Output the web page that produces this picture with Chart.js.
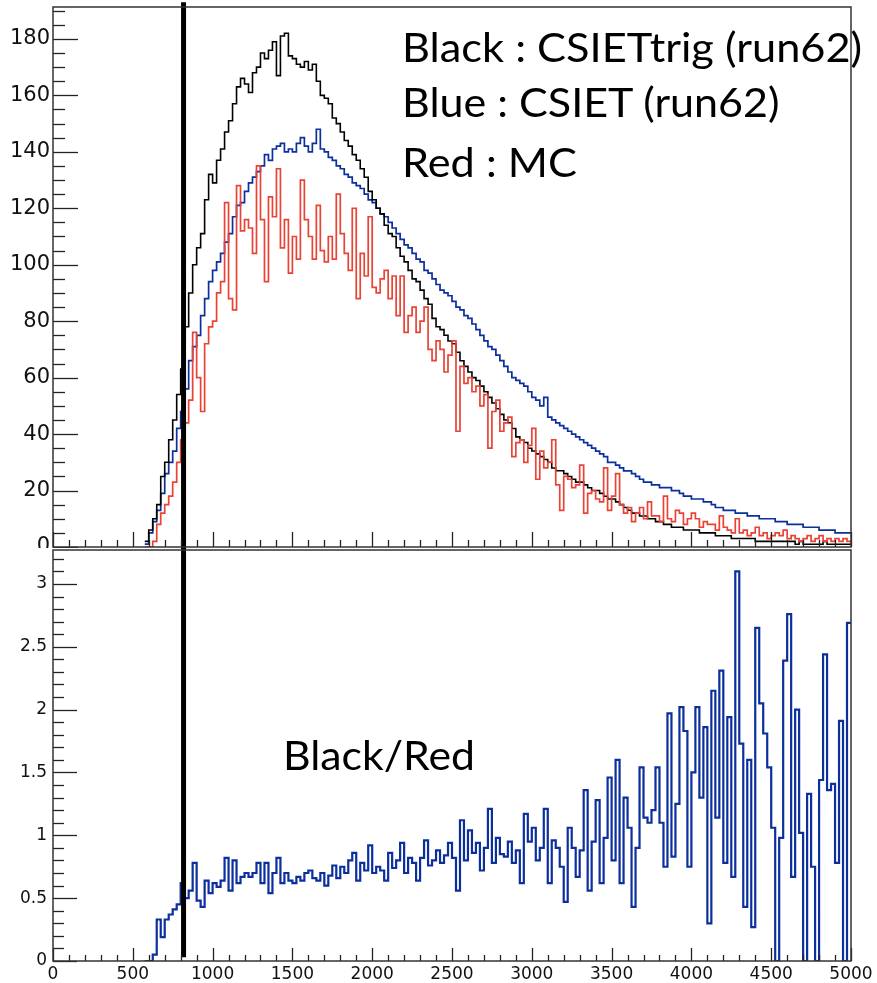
<!DOCTYPE html>
<html>
<head>
<meta charset="utf-8">
<script src="https://cdn.jsdelivr.net/npm/chart.js@4/dist/chart.umd.min.js"></script>
<style>
  html, body { margin: 0; padding: 0; background: #fff; }
  #wrap { position: relative; width: 877px; height: 983px; overflow: hidden; }
  #top { position: absolute; left: 0; top: 0; }
  #bottom { position: absolute; left: 0; top: 548px; background: #fff; }
  .note { position: absolute; font-family: Lato, "Open Sans", sans-serif; font-size: 41px;
          line-height: 1; white-space: nowrap; color: #000; transform-origin: 0 0; }
</style>
</head>
<body>
<div id="wrap">
  <canvas id="top" width="877" height="560"></canvas>
  <canvas id="bottom" width="877" height="435"></canvas>
  <div class="note" id="n1" style="left:402px; top:26px" data-w="460">Black : CSIETtrig (run62)</div>
  <div class="note" id="n2" style="left:402px; top:81px" data-w="379">Blue : CSIET (run62)</div>
  <div class="note" id="n3" style="left:402px; top:141px" data-w="175">Red : MC</div>
  <div class="note" id="n4" style="left:283px; top:734px" data-w="192">Black/Red</div>
</div>
<script>
// histogram binning (x in ADC-like units), first bin starts at 575
const binLow = 575;
const binWidth = 25;
const cutX = 818;

// Black : CSIETtrig (run62)
const blackCounts = [
  2, 6, 10, 15, 25, 30, 38, 45, 54, 63, 78, 90, 100, 106, 111, 123, 132, 129, 137, 141,
  147, 151, 157, 163, 166, 164, 161, 168, 170, 175, 173, 176, 179, 167, 181, 182, 174, 173, 171, 170,
  172, 169, 171, 165, 160, 159, 157, 152, 150, 147, 144, 142, 139, 137, 134, 131, 126, 123, 120, 118,
  114, 111, 110, 106, 103, 101, 98, 95, 94, 91, 88, 86, 81, 78, 77, 75, 73, 72, 69, 66,
  64, 62, 60, 59, 57, 55, 53, 51, 49, 47, 45, 44, 42, 39, 38, 37, 35, 34, 33, 32,
  31, 30, 28, 27, 27, 26, 25, 24, 23, 23, 22, 21, 20, 20, 19, 18, 17, 17, 16, 15,
  14, 13, 12, 12, 11, 11, 10, 10, 9, 9, 8, 8, 7, 7, 7, 6, 6, 6, 6, 5,
  5, 5, 5, 4, 4, 4, 4, 3, 3, 3, 3, 3, 3, 2, 2, 2, 2, 2, 2, 2,
  2, 2, 2, 1, 2, 1, 1, 1, 1, 1, 2, 1, 1, 1, 1, 1, 1
];

// Blue : CSIET (run62)
const blueCounts = [
  1, 5, 9, 13, 19, 26, 30, 34, 42, 48, 56, 66, 71, 75, 82, 88, 94, 98, 101, 104,
  108, 111, 117, 121, 122, 126, 129, 131, 133, 135, 139, 137, 141, 142, 143, 140, 141, 140, 143, 145,
  142, 140, 143, 148, 141, 140, 138, 137, 135, 134, 132, 131, 129, 128, 127, 125, 123, 122, 120, 118,
  117, 115, 113, 111, 109, 107, 106, 104, 102, 101, 98, 97, 95, 93, 91, 90, 89, 87, 85, 84,
  82, 81, 79, 77, 75, 73, 71, 70, 68, 66, 64, 62, 60, 59, 58, 57, 55, 53, 52, 50,
  53, 46, 45, 44, 43, 42, 41, 40, 39, 38, 37, 36, 35, 34, 33, 32, 30, 30, 29, 28,
  27, 27, 26, 25, 24, 23, 23, 22, 22, 21, 21, 21, 20, 20, 19, 18, 18, 17, 17, 17,
  16, 16, 15, 14, 14, 13, 13, 13, 12, 12, 12, 11, 11, 11, 10, 10, 10, 10, 9, 9,
  9, 8, 8, 8, 8, 7, 7, 7, 7, 6, 6, 6, 6, 5, 5, 5, 5
];

// Red : MC
const redCounts = [
  0, 0, 2, 8, 12, 15, 18, 23, 30, 38, 44, 52, 76, 60, 48, 72, 78, 80, 90, 94,
  122, 88, 84, 128, 112, 116, 113, 104, 135, 116, 94, 124, 117, 134, 106, 116, 97, 110, 102, 130,
  116, 110, 102, 121, 105, 101, 110, 102, 125, 111, 104, 98, 120, 88, 104, 96, 117, 92, 90, 95,
  98, 88, 96, 82, 96, 76, 82, 85, 76, 80, 85, 70, 66, 73, 70, 62, 68, 73, 41, 64,
  58, 60, 55, 57, 50, 54, 35, 48, 52, 41, 44, 46, 32, 37, 38, 30, 36, 42, 24, 34,
  28, 30, 38, 22, 13, 25, 24, 21, 22, 29, 12, 19, 20, 17, 16, 28, 13, 18, 26, 15,
  12, 14, 9, 12, 14, 10, 16, 11, 11, 9, 18, 10, 9, 13, 12, 8, 10, 12, 10, 7,
  9, 8, 8, 6, 11, 7, 6, 5, 10, 5, 6, 4, 5, 7, 4, 5, 3, 4, 5, 4,
  6, 3, 4, 3, 2, 3, 4, 2, 3, 4, 2, 3, 2, 3, 2, 3, 2
];

// Black/Red ratio
const ratioValues = [
  0, 0, 0.05, 0.33, 0.19, 0.33, 0.37, 0.41, 0.45, 0.62, 0.50, 0.56, 0.78, 0.48, 0.43, 0.64, 0.54, 0.62, 0.59, 0.64,
  0.82, 0.56, 0.80, 0.62, 0.67, 0.70, 0.67, 0.70, 0.78, 0.62, 0.78, 0.54, 0.70, 0.82, 0.62, 0.70, 0.64, 0.62, 0.67, 0.64,
  0.70, 0.72, 0.66, 0.64, 0.70, 0.60, 0.68, 0.76, 0.66, 0.75, 0.70, 0.80, 0.86, 0.64, 0.78, 0.72, 0.92, 0.70, 0.75, 0.72,
  0.64, 0.86, 0.74, 0.80, 0.94, 0.70, 0.82, 0.78, 0.64, 0.82, 0.96, 0.76, 0.80, 0.88, 0.78, 0.84, 0.94, 0.82, 0.56, 1.12,
  0.80, 1.04, 0.86, 0.94, 0.72, 0.90, 1.21, 0.78, 0.98, 0.85, 0.83, 0.95, 0.78, 0.88, 0.62, 1.17, 0.95, 1.06, 0.80, 0.90,
  1.21, 0.62, 0.96, 0.90, 0.75, 0.47, 1.06, 0.90, 0.67, 0.88, 1.36, 0.56, 0.95, 1.28, 0.62, 0.98, 1.46, 0.80, 1.60, 0.62,
  1.30, 1.06, 0.43, 0.90, 1.54, 1.14, 1.10, 1.20, 1.54, 1.10, 0.75, 1.97, 0.83, 1.25, 2.02, 1.83, 0.75, 1.50, 2.02, 1.30,
  1.86, 0.30, 2.15, 1.14, 2.31, 0.78, 1.94, 0.67, 3.10, 1.73, 0.43, 1.60, 0.27, 2.65, 2.05, 1.81, 1.54, 1.06, 0, 0.98,
  2.39, 2.76, 0.67, 2.00, 1.02, 0, 1.33, 0.75, 0, 1.44, 2.44, 1.36, 1.41, 0.78, 1.91, 0, 2.69
];

// axis tick steps
const xMajor = 500, xMinor = 100;
const topYMajor = 20, topYMinor = 5;
const botYMajor = 0.5, botYMinor = 0.1;

function histPoints(values) {
  const pts = values.map((v, i) => ({ x: binLow + i * binWidth, y: v }));
  pts.push({ x: binLow + values.length * binWidth, y: values[values.length - 1] });
  return pts;
}

function isMultiple(v, step) {
  return Math.abs(v / step - Math.round(v / step)) < 1e-6;
}

// ROOT-like frame with ticks pointing inside
const frameTicks = {
  id: 'frameTicks',
  afterDatasetsDraw(chart, args, o) {
    const { ctx, chartArea: a, scales } = chart;
    ctx.save();
    ctx.strokeStyle = '#222';
    ctx.lineWidth = 1.3;
    const xs = scales.x, ys = scales.y;
    for (let k = Math.ceil(xs.min / xMinor); k * xMinor <= xs.max + 1e-9; k++) {
      const v = k * xMinor;
      const len = isMultiple(v, xMajor) ? o.xMajorLen : o.xMinorLen;
      const px = Math.round(xs.getPixelForValue(v)) + 0.5;
      ctx.beginPath(); ctx.moveTo(px, a.bottom); ctx.lineTo(px, a.bottom - len); ctx.stroke();
    }
    for (let k = Math.ceil(ys.min / o.yMinor - 1e-9); k * o.yMinor <= ys.max + 1e-9; k++) {
      const v = k * o.yMinor;
      const len = isMultiple(v, o.yMajor) ? o.yMajorLen : o.yMinorLen;
      const py = Math.round(ys.getPixelForValue(v)) + 0.5;
      ctx.beginPath(); ctx.moveTo(a.left, py); ctx.lineTo(a.left + len, py); ctx.stroke();
    }
    ctx.lineWidth = 1.5;
    ctx.strokeStyle = '#333';
    ctx.strokeRect(a.left, a.top, a.right - a.left, a.bottom - a.top);
    ctx.restore();
  }
};

function fixWidth(w) {
  return s => { s.width = w; s.paddingTop = 0; s.paddingBottom = 0; };
}
function fixHeight(h) {
  return s => { s.height = h; s.paddingLeft = 0; s.paddingRight = 0; };
}

const lineStyle = { pointRadius: 0, stepped: 'before', tension: 0, fill: false };

// top panel
new Chart(document.getElementById('top'), {
  type: 'line',
  data: {
    datasets: [
      { data: [{ x: cutX, y: -2 }, { x: cutX, y: 193 }], borderColor: '#000', borderWidth: 5, pointRadius: 0, clip: false },
      { ...lineStyle, data: histPoints(redCounts), borderColor: '#ea4335', borderWidth: 1.7 },
      { ...lineStyle, data: histPoints(blackCounts), borderColor: '#000', borderWidth: 1.6 },
      { ...lineStyle, data: histPoints(blueCounts), borderColor: '#0b2f9c', borderWidth: 1.7 }
    ]
  },
  options: {
    responsive: false,
    animation: false,
    events: [],
    layout: { padding: { top: 7, right: 26, left: 0, bottom: 0 } },
    plugins: {
      legend: { display: false },
      tooltip: { enabled: false },
      frameTicks: { yMajor: topYMajor, yMinor: topYMinor, xMajorLen: 15, xMinorLen: 7, yMajorLen: 25, yMinorLen: 12 }
    },
    scales: {
      x: {
        type: 'linear', min: 0, max: 5000,
        grid: { display: false, drawTicks: false }, border: { display: false },
        ticks: { display: false },
        afterFit: fixHeight(13)
      },
      y: {
        min: 0, max: 191.3,
        grid: { display: false, drawTicks: false }, border: { display: false },
        ticks: {
          stepSize: topYMajor, padding: 3, color: '#111',
          font: { family: 'DejaVu Sans', size: 21 },
          callback: v => isMultiple(v, topYMajor) ? String(Math.round(v)) : ''
        },
        afterFit: fixWidth(53)
      }
    }
  },
  plugins: [frameTicks]
});

// bottom panel
new Chart(document.getElementById('bottom'), {
  type: 'line',
  data: {
    datasets: [
      { data: [{ x: cutX, y: 0.03 }, { x: cutX, y: 3.4 }], borderColor: '#000', borderWidth: 5, pointRadius: 0, clip: false },
      { ...lineStyle, data: histPoints(ratioValues), borderColor: '#0b2f9c', borderWidth: 2.2 }
    ]
  },
  options: {
    responsive: false,
    animation: false,
    events: [],
    layout: { padding: { top: 2, right: 26, left: 0, bottom: 0 } },
    plugins: {
      legend: { display: false },
      tooltip: { enabled: false },
      frameTicks: { yMajor: botYMajor, yMinor: botYMinor, xMajorLen: 13, xMinorLen: 6, yMajorLen: 24, yMinorLen: 11 }
    },
    scales: {
      x: {
        type: 'linear', min: 0, max: 5000,
        grid: { display: false, drawTicks: false }, border: { display: false },
        ticks: {
          stepSize: xMajor, padding: 3, color: '#111', autoSkip: false, maxRotation: 0,
          font: { family: 'DejaVu Sans', size: 17 },
          callback: v => String(v)
        },
        afterFit: fixHeight(22)
      },
      y: {
        min: 0, max: 3.27,
        grid: { display: false, drawTicks: false }, border: { display: false },
        ticks: {
          stepSize: botYMajor, padding: 6, color: '#111',
          font: { family: 'DejaVu Sans', size: 17 },
          callback: v => isMultiple(v, botYMajor) ? String(+v.toFixed(1)) : ''
        },
        afterFit: fixWidth(53)
      }
    }
  },
  plugins: [frameTicks]
});

// squeeze the annotation texts to the widths seen in the picture
const mctx = document.createElement('canvas').getContext('2d');
document.querySelectorAll('.note').forEach(el => {
  mctx.font = '41px Lato';
  const w = mctx.measureText(el.textContent).width;
  el.style.transform = 'scaleX(' + (Number(el.dataset.w) / w).toFixed(3) + ')';
});
</script>
</body>
</html>
